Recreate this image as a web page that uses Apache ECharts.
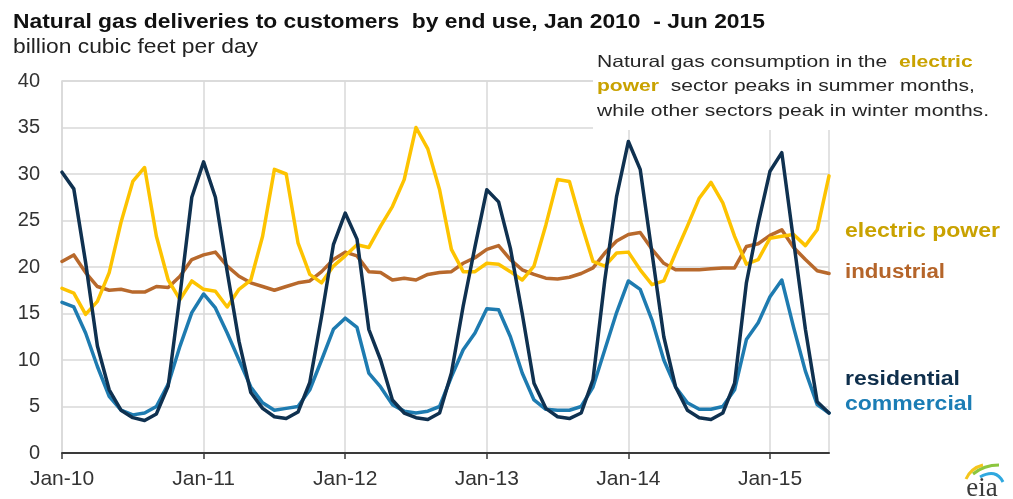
<!DOCTYPE html>
<html>
<head>
<meta charset="utf-8">
<script src="https://cdn.jsdelivr.net/npm/echarts@6/dist/echarts.min.js"></script>
<style>
  html, body { margin: 0; padding: 0; background: #fff; }
  #chart { width: 1013px; height: 499px; }
</style>
</head>
<body>
<div id="chart"></div>
<script>
// Monthly categories, Jan 2010 through Jun 2015
const categories = [
  'Jan-10','Feb-10','Mar-10','Apr-10','May-10','Jun-10','Jul-10','Aug-10','Sep-10','Oct-10','Nov-10','Dec-10',
  'Jan-11','Feb-11','Mar-11','Apr-11','May-11','Jun-11','Jul-11','Aug-11','Sep-11','Oct-11','Nov-11','Dec-11',
  'Jan-12','Feb-12','Mar-12','Apr-12','May-12','Jun-12','Jul-12','Aug-12','Sep-12','Oct-12','Nov-12','Dec-12',
  'Jan-13','Feb-13','Mar-13','Apr-13','May-13','Jun-13','Jul-13','Aug-13','Sep-13','Oct-13','Nov-13','Dec-13',
  'Jan-14','Feb-14','Mar-14','Apr-14','May-14','Jun-14','Jul-14','Aug-14','Sep-14','Oct-14','Nov-14','Dec-14',
  'Jan-15','Feb-15','Mar-15','Apr-15','May-15','Jun-15'
];

// Deliveries, billion cubic feet per day
const residential = [
  30.2, 28.4, 20.5, 11.5, 6.8, 4.6, 3.8, 3.5, 4.2, 7.2, 17.0, 27.5,
  31.3, 27.5, 19.5, 12.0, 6.5, 4.8, 3.9, 3.7, 4.4, 7.6, 14.7, 22.4,
  25.8, 23.0, 13.3, 10.0, 5.7, 4.3, 3.8, 3.6, 4.3, 8.6, 15.8, 22.2,
  28.3, 27.0, 22.0, 15.0, 7.5, 4.8, 3.9, 3.7, 4.3, 7.9, 18.6, 27.6,
  33.5, 30.5, 21.5, 12.5, 7.1, 4.6, 3.8, 3.6, 4.3, 7.5, 18.3, 24.7,
  30.3, 32.3, 22.8, 13.3, 5.5, 4.3
];
const commercial = [
  16.2, 15.7, 12.9, 9.3, 6.1, 4.6, 4.1, 4.3, 5.0, 7.4, 11.5, 15.1,
  17.1, 15.6, 12.9, 10.0, 7.1, 5.4, 4.6, 4.8, 5.0, 6.8, 10.0, 13.3,
  14.5, 13.5, 8.6, 7.1, 5.2, 4.5, 4.3, 4.5, 5.0, 8.2, 11.1, 12.9,
  15.5, 15.4, 12.5, 8.6, 5.7, 4.7, 4.6, 4.6, 5.0, 7.1, 11.1, 15.1,
  18.5, 17.6, 14.3, 10.0, 7.1, 5.4, 4.7, 4.7, 5.0, 6.8, 12.2, 14.0,
  16.8, 18.6, 13.5, 8.8, 5.2, 4.3
];
const industrial = [
  20.6, 21.3, 19.4, 17.9, 17.5, 17.6, 17.3, 17.3, 17.9, 17.8, 19.0, 20.8,
  21.3, 21.6, 20.1, 19.0, 18.3, 17.9, 17.5, 17.9, 18.3, 18.5, 19.5, 20.8,
  21.6, 21.2, 19.5, 19.4, 18.6, 18.8, 18.6, 19.2, 19.4, 19.5, 20.4, 21.0,
  21.9, 22.3, 20.8, 19.7, 19.2, 18.8, 18.7, 18.9, 19.3, 19.9, 21.5, 22.8,
  23.5, 23.7, 21.9, 20.4, 19.7, 19.7, 19.7, 19.8, 19.9, 19.9, 22.2, 22.5,
  23.4, 24.0, 22.1, 20.8, 19.6, 19.3
];
const electricPower = [
  17.7, 17.2, 14.9, 16.3, 19.4, 24.8, 29.2, 30.7, 23.3, 18.6, 16.5, 18.5,
  17.6, 17.4, 15.7, 17.6, 18.6, 23.3, 30.5, 30.0, 22.6, 19.2, 18.3, 20.1,
  21.2, 22.4, 22.1, 24.4, 26.5, 29.4, 35.0, 32.7, 28.3, 21.9, 19.5, 19.5,
  20.4, 20.3, 19.5, 18.6, 20.1, 24.5, 29.4, 29.2, 24.7, 20.6, 20.1, 21.5,
  21.6, 19.7, 18.1, 18.5, 21.5, 24.4, 27.4, 29.1, 26.9, 23.3, 20.3, 20.8,
  23.1, 23.3, 23.5, 22.3, 24.0, 29.8
];

const seriesNames = ['industrial', 'electric power', 'commercial', 'residential'];
const seriesData = [industrial, electricPower, commercial, residential];
const lineColors = ['#b8692c', '#fdc300', '#1e7bb0', '#0f3150'];
const labelColors = ['#b5652a', '#c9a200', '#1b7db5', '#0f2f4c'];

const titleText = 'Natural gas deliveries to customers  by end use, Jan 2010  - Jun 2015';
const unitText = 'billion cubic feet per day';
const noteLines = [
  '{n|Natural gas consumption in the  }{h|electric}',
  '{h|power}{n|  sector peaks in summer months,}',
  '{n|while other sectors peak in winter months.}'
];

const FONT = "'Liberation Sans', Arial, sans-serif";
const measureCtx = document.createElement('canvas').getContext('2d');
function textWidth(text, weight, size) {
  measureCtx.font = weight + ' ' + size + 'px ' + FONT;
  return measureCtx.measureText(text).width;
}

// A single line of text squeezed or stretched horizontally to span a given width
function fittedText(text, x, y, size, weight, color, width) {
  return {
    type: 'text', x: x, y: y, z: 10,
    scaleX: width / textWidth(text, weight, size),
    style: {
      text: text, fontSize: size, fontWeight: weight, fontFamily: FONT,
      fill: color, align: 'left', verticalAlign: 'middle'
    }
  };
}

const isJanuary = (idx) => idx % 12 === 0;
const chart = echarts.init(document.getElementById('chart'), null, { renderer: 'canvas' });

const noteSize = 16.5;
const noteScale = 392 / textWidth('while other sectors peak in winter months.', 'normal', noteSize);

// Line end labels (right of the plot)
const endLabels = [
  { name: 'electric power', y: 231, width: 155, color: labelColors[1] },
  { name: 'industrial', y: 272, width: 100, color: labelColors[0] },
  { name: 'residential', y: 379, width: 115, color: labelColors[3] },
  { name: 'commercial', y: 404.5, width: 128, color: labelColors[2] }
];

const graphics = [
  fittedText(titleText, 13, 22, 20, 'bold', '#111', 752),
  fittedText(unitText, 13, 47, 20, 'normal', '#222', 245),
  // white panel behind the note, hiding the grid lines beneath it
  { type: 'rect', z: 1, shape: { x: 593, y: 48, width: 420, height: 82 }, style: { fill: '#fff' } },
  {
    type: 'text', x: 597, y: 50.5, z: 10, scaleX: noteScale,
    style: {
      text: noteLines.join('\n'), align: 'left', verticalAlign: 'top',
      rich: {
        n: { fontSize: noteSize, fontFamily: FONT, fill: '#262626', lineHeight: 24.3 },
        h: { fontSize: noteSize, fontFamily: FONT, fontWeight: 'bold', fill: '#c9a200', lineHeight: 24.3 }
      }
    }
  }
].concat(endLabels.map(l => fittedText(l.name, 845, l.y, 20, 'bold', l.color, l.width)))
 .concat([
  // eia logo
  { type: 'bezierCurve', z: 10, shape: { x1: 966, y1: 479, x2: 983, y2: 465, cpx1: 971, cpy1: 468 }, style: { stroke: '#f4c51c', lineWidth: 3, fill: null } },
  { type: 'bezierCurve', z: 10, shape: { x1: 973, y1: 474, x2: 999, y2: 465, cpx1: 984, cpy1: 465 }, style: { stroke: '#8cc63e', lineWidth: 3, fill: null } },
  { type: 'bezierCurve', z: 10, shape: { x1: 980, y1: 477, x2: 1003, y2: 482, cpx1: 996, cpy1: 468 }, style: { stroke: '#2fa8df', lineWidth: 3, fill: null } },
  { type: 'text', x: 982, y: 489, z: 10, style: { text: 'eia', fontSize: 27, fontFamily: "'Liberation Serif', 'DejaVu Serif', serif", fill: '#3b3b3b', align: 'center', verticalAlign: 'middle' } }
]);

chart.setOption({
  animation: false,
  backgroundColor: '#fff',
  grid: {
    left: 62, right: 184, top: 81, bottom: 46,
    show: true, borderColor: '#d9d9d9', borderWidth: 1.5, backgroundColor: 'transparent'
  },
  xAxis: {
    type: 'category',
    data: categories,
    boundaryGap: false,
    axisLine: { lineStyle: { color: '#3a3a3a', width: 2 } },
    axisTick: { show: true, interval: isJanuary, length: 6, lineStyle: { color: '#3a3a3a', width: 1.5 } },
    axisLabel: { interval: isJanuary, fontSize: 21, fontFamily: FONT, color: '#333', margin: 16 },
    splitLine: { show: true, interval: isJanuary, lineStyle: { color: '#d9d9d9', width: 1.5 } }
  },
  yAxis: {
    type: 'value',
    min: 0, max: 40, interval: 5,
    axisLine: { show: false },
    axisTick: { show: false },
    axisLabel: { fontSize: 20, fontFamily: FONT, color: '#333', margin: 22 },
    splitLine: { lineStyle: { color: '#d9d9d9', width: 1.5 } }
  },
  series: seriesNames.map((name, k) => ({
    name: name,
    type: 'line',
    data: seriesData[k],
    symbol: 'none',
    z: 2 + k,
    lineStyle: { color: lineColors[k], width: 3.5, cap: 'round', join: 'round' }
  })),
  graphic: graphics
});
</script>
</body>
</html>
